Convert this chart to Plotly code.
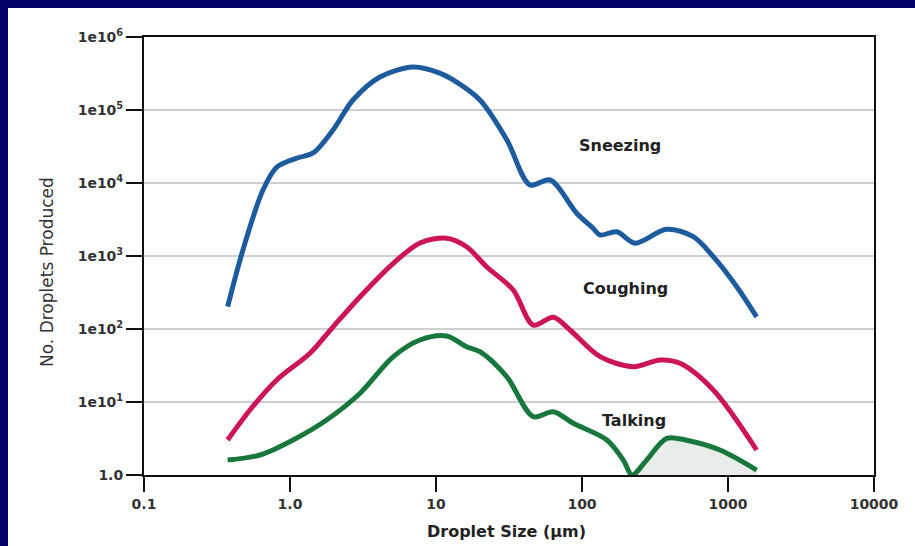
import plotly.graph_objects as go

# ---- data ----
sneeze_x = [0.374, 0.476, 0.653, 0.815, 1.12, 1.44, 1.97, 2.70, 4.13, 6.96, 10.6, 13.1,
            20.0, 30.6, 44.0, 60.4, 92, 119, 133, 173, 231, 380, 578, 793, 1148, 1570]
sneeze_y = [202, 1210, 8020, 16600, 22000, 25800, 53200, 137000, 283000, 388000, 321000, 258000,
            137000, 38800, 9400, 11000, 3850, 2400, 1940, 2150, 1500, 2320, 1840, 979, 380, 147]

cough_x = [0.374, 0.532, 0.811, 1.37, 1.98, 3.02, 5.10, 7.77, 11.8, 16.2, 22.3, 33.8,
           46.4, 63.6, 82.8, 133, 225, 342, 469, 793, 1570]
cough_y = [3.02, 7.77, 20.0, 46.5, 108, 277, 794, 1510, 1750, 1340, 707, 342,
           113, 145, 96.9, 41.8, 30.5, 37.6, 33.9, 14.6, 2.20]

talk_x = [0.374, 0.624, 1.05, 1.78, 3.02, 5.10, 7.77, 11.8, 16.2, 20.0, 30.5, 46.4,
          63.6, 87.2, 148, 192, 220, 277, 380, 521, 881, 1570]
talk_y = [1.60, 1.88, 3.02, 5.67, 13.2, 41.8, 70.7, 80.2, 57.2, 48.9, 22.2, 6.29,
          7.36, 5.11, 3.02, 1.60, 1.0, 1.60, 3.18, 3.0, 2.20, 1.17]

# shaded region under the talking curve (right of the dip)
shade_x = [220, 277, 380, 521, 881, 1570]
shade_y = [1.0, 1.60, 3.18, 3.0, 2.20, 1.17]

x_tickvals = [0.1, 1, 10, 100, 1000, 10000]
x_ticktext = ["0.1", "1.0", "10", "100", "1000", "10000"]
y_tickvals = [1, 10, 100, 1000, 10000, 100000, 1000000]
y_ticktext = ["1.0", "1e10<sup>1</sup>", "1e10<sup>2</sup>", "1e10<sup>3</sup>",
              "1e10<sup>4</sup>", "1e10<sup>5</sup>", "1e10<sup>6</sup>"]

labels = ["Sneezing", "Coughing", "Talking"]

BLUE = "#1c5c9e"
RED = "#cc1458"
GREEN = "#17773c"
FONT = "DejaVu Sans"

fig = go.Figure()

# baseline + fill for shaded region
fig.add_trace(go.Scatter(x=[shade_x[0], shade_x[-1]], y=[1, 1], mode="lines",
                         line=dict(width=0), hoverinfo="skip", showlegend=False))
fig.add_trace(go.Scatter(x=shade_x, y=shade_y, mode="lines", fill="tonexty",
                         fillcolor="rgba(215,222,215,0.55)", line=dict(width=0, shape="spline"),
                         hoverinfo="skip", showlegend=False))

for xs, ys, c, name in [(sneeze_x, sneeze_y, BLUE, labels[0]),
                        (cough_x, cough_y, RED, labels[1]),
                        (talk_x, talk_y, GREEN, labels[2])]:
    fig.add_trace(go.Scatter(x=xs, y=ys, mode="lines", name=name,
                             line=dict(color=c, width=5, shape="spline", smoothing=0.9),
                             showlegend=False))

# curve labels
for txt, lx, ly in [(labels[0], 2.26, 4.52), (labels[1], 2.30, 2.56), (labels[2], 2.356, 0.753)]:
    fig.add_annotation(x=lx, y=ly, text=txt, showarrow=False, xanchor="center", yanchor="middle",
                       font=dict(family=FONT, size=16, color="#222222", weight="bold"))

# axis titles
fig.add_annotation(xref="paper", yref="paper", x=0.497, y=-0.130, text="Droplet Size (µm)",
                   showarrow=False, xanchor="center", yanchor="middle",
                   font=dict(family=FONT, size=16, color="#222222", weight="bold"))
fig.add_annotation(xref="paper", yref="paper", x=-0.1329, y=0.4635, text="No. Droplets Produced",
                   textangle=-90, showarrow=False, xanchor="center", yanchor="middle",
                   font=dict(family=FONT, size=17, color="#333333"))

# navy border bands (left and top)
W, H = 730.0, 438.0
fig.add_shape(type="rect", xref="paper", yref="paper", x0=-144 / W, x1=-136 / W,
              y0=(475 - 546) / H, y1=475 / H, fillcolor="#03036b", line=dict(width=0), layer="below")
fig.add_shape(type="rect", xref="paper", yref="paper", x0=-144 / W, x1=(915 - 144) / W,
              y0=(475 - 8) / H, y1=475 / H, fillcolor="#03036b", line=dict(width=0), layer="below")

fig.update_layout(
    width=915, height=546,
    margin=dict(l=144, r=41, t=37, b=71),
    paper_bgcolor="white", plot_bgcolor="white",
    showlegend=False,
    xaxis=dict(type="log", range=[-1, 4], tickvals=x_tickvals, ticktext=x_ticktext,
               showgrid=False, zeroline=False, showline=True, linecolor="#111111", linewidth=2,
               mirror=True, ticks="outside", ticklen=15, tickwidth=2, tickcolor="#111111",
               tickfont=dict(family=FONT, size=14, color="#333333", weight="bold")),
    yaxis=dict(type="log", range=[0, 6], tickvals=y_tickvals, ticktext=y_ticktext,
               showgrid=True, gridcolor="#cfcfcf", gridwidth=2, zeroline=False,
               showline=True, linecolor="#111111", linewidth=2, mirror=True,
               ticks="outside", ticklen=16, tickwidth=2, tickcolor="#111111",
               tickfont=dict(family=FONT, size=14, color="#333333", weight="bold")),
)

fig.write_html(
    "out.html",
    config={"displayModeBar": False},
    post_script="document.body.style.margin='0';document.body.style.overflow='hidden';"
                "document.body.style.background='white';",
)
